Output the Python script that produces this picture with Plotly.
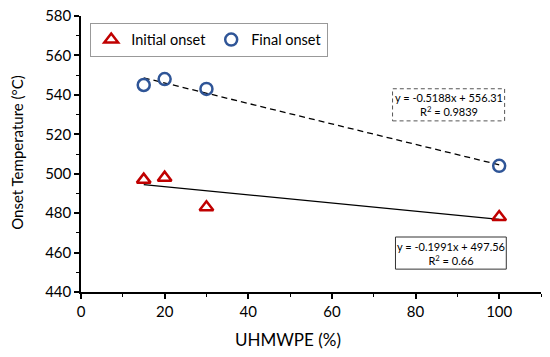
import numpy as np
import plotly.graph_objects as go

uhmwpe = [15, 20, 30, 100]
initial_onset = [497, 498, 483, 478]
final_onset = [545, 548, 543, 504]

x_ticks = [0, 20, 40, 60, 80, 100]
y_ticks = [440, 460, 480, 500, 520, 540, 560, 580]

FONT = "Lato, 'Open Sans', sans-serif"
RED = "#C00000"
BLUE = "#2F5597"

fig = go.Figure()

# trendlines (fitted from the data)
xs = np.array([min(uhmwpe), max(uhmwpe)])
pi = np.polyfit(uhmwpe, initial_onset, 1)
pf = np.polyfit(uhmwpe, final_onset, 1)
fig.add_trace(go.Scatter(x=xs, y=np.polyval(pi, xs), mode="lines",
                         line=dict(color="black", width=1.3), showlegend=False, hoverinfo="skip"))
fig.add_trace(go.Scatter(x=xs, y=np.polyval(pf, xs), mode="lines",
                         line=dict(color="black", width=1.3, dash="6px,4px"), showlegend=False, hoverinfo="skip"))

fig.add_trace(go.Scatter(x=uhmwpe, y=initial_onset, mode="markers", name="Initial onset",
                         marker=dict(symbol="triangle-up-open", size=12, color=RED, line=dict(width=2.5, color=RED))))
fig.add_trace(go.Scatter(x=uhmwpe, y=final_onset, mode="markers", name="Final onset",
                         marker=dict(symbol="circle-open", size=12, color=BLUE, line=dict(width=2.5, color=BLUE))))

# equation boxes
fig.add_shape(type="rect", x0=74.5, x1=101.3, y0=526.8, y1=543.1, xref="x", yref="y",
              line=dict(color="#555555", width=1, dash="4px,3px"), fillcolor="white", layer="below")
fig.add_annotation(x=87.9, y=534.95, xref="x", yref="y", showarrow=False,
                   text="y = -0.5188x + 556.31<br>R<sup>2</sup> = 0.9839",
                   font=dict(family=FONT, size=11, color="black"))
fig.add_shape(type="rect", x0=75.2, x1=101.7, y0=451.6, y1=467.9, xref="x", yref="y",
              line=dict(color="#333333", width=1), fillcolor="white", layer="below")
fig.add_annotation(x=88.45, y=459.75, xref="x", yref="y", showarrow=False,
                   text="y = -0.1991x + 497.56<br>R<sup>2</sup> = 0.66",
                   font=dict(family=FONT, size=11, color="black"))

# axis titles
fig.add_annotation(x=0.449, y=-0.172, xref="paper", yref="paper",
                   showarrow=False, text="UHMWPE (%)", font=dict(size=17, family=FONT),
                   xanchor="center", yanchor="middle")
fig.add_annotation(x=-0.141, y=0.505, xref="paper", yref="paper", textangle=-90,
                   showarrow=False, text="Onset Temperature (°C)", font=dict(size=15, family=FONT),
                   xanchor="center", yanchor="middle")

fig.update_layout(
    width=550, height=357,
    margin=dict(l=81, r=9, t=16, b=65, autoexpand=False),
    paper_bgcolor="white", plot_bgcolor="white",
    font=dict(family=FONT, color="black"),
    legend=dict(orientation="h", x=0.02, y=0.976, xanchor="left", yanchor="top",
                bordercolor="#999999", borderwidth=1, bgcolor="white",
                font=dict(size=14.5, family=FONT), itemwidth=30, tracegroupgap=0),
    xaxis=dict(range=[0, 110], tickvals=x_ticks, showgrid=False, zeroline=False, automargin=False,
               showline=True, linecolor="black", linewidth=1.5,
               ticks="outside", ticklen=5, tickwidth=1.5, tickcolor="black",
               minor=dict(dtick=10, ticks="outside", ticklen=3, tickwidth=1, tickcolor="black"),
               tickfont=dict(size=15, family=FONT)),
    yaxis=dict(range=[440, 580], tickvals=y_ticks, showgrid=False, zeroline=False, automargin=False,
               showline=True, linecolor="black", linewidth=1.5,
               ticks="outside", ticklen=5, tickwidth=1.5, tickcolor="black",
               minor=dict(dtick=10, ticks="outside", ticklen=3, tickwidth=1, tickcolor="black"),
               tickfont=dict(size=15, family=FONT)),
)

fig.write_html("out.html", config={"displayModeBar": False},
               post_script="document.body.style.margin='0';")
